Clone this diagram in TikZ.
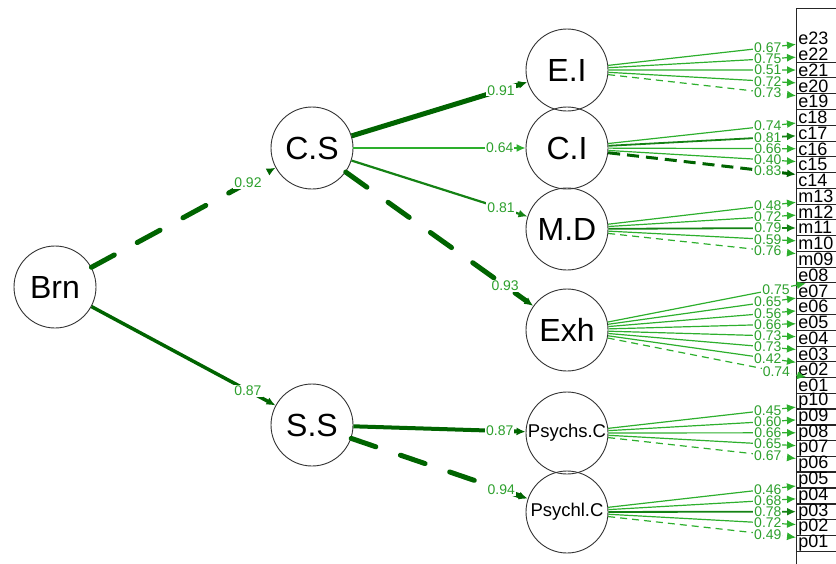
\documentclass[tikz,border=0pt]{standalone}
\usepackage{fontspec}
\setmainfont{Liberation Sans}
\usetikzlibrary{arrows.meta}
\definecolor{dkgreen}{RGB}{0,100,0}
\definecolor{mdgreen}{RGB}{20,130,20}
\definecolor{ltgreen}{RGB}{45,175,45}
\definecolor{lblgreen}{RGB}{45,160,45}
\tikzset{
  latent/.style={circle, draw=black!80, line width=0.9pt, minimum size=82pt, inner sep=0pt,
    font=\fontsize{32}{34}\selectfont},
  latsmall/.style={latent, font=\fontsize{18.5}{20}\selectfont},
  mbox/.style={draw=black!85, line width=0.9pt, anchor=west, text width=100pt, align=left,
    inner xsep=2pt, inner ysep=0pt, minimum height=15.77pt, font=\fontsize{18}{18}\selectfont},
  lbl/.style={fill=white, inner sep=1pt, text=lblgreen, font=\fontsize{14}{14}\selectfont, pos=0.85},
  tip/.style={-{Latex[length=9pt,width=8pt]}},
  reg/.style={tip, dkgreen, line width=5pt},
  regdash/.style={reg, line cap=round, dash pattern=on 26pt off 26pt},
  load/.style={tip, ltgreen, line width=1.2pt},
  loadstrong/.style={tip, mdgreen, line width=1.8pt},
  fixload/.style={load, dash pattern=on 7pt off 5pt},
  fixstrong/.style={tip, dkgreen, line width=3pt, dash pattern=on 12pt off 7pt}
}
\begin{document}
\begin{tikzpicture}[x=1pt, y=-1pt]
\useasboundingbox (0,0) rectangle (836,563);
\clip (0,0) rectangle (836,563);

\node[latent] (Brn) at (55,287) {Brn};
\node[latent] (CS) at (312,148) {C.S};
\node[latent] (SS) at (312,425) {S.S};
\node[latent] (EI) at (567,70) {E.I};
\node[latent] (CI) at (567,148) {C.I};
\node[latent] (MD) at (567,229) {M.D};
\node[latent] (Exh) at (567,330) {Exh};
\node[latsmall] (PsC) at (567,433) {Psychs.C};
\node[latsmall] (PlC) at (567,512) {Psychl.C};

\draw[black!85, line width=0.9pt] (796,8) rectangle (880,600);
\node[mbox, draw=none] (e23) at (796,38.5) {e23};
\node[mbox, draw=none] (e22) at (796,54.3) {e22};
\foreach \nm [count=\k from 2] in {e21,e20,e19,c18,c17,c16,c15,c14,m13,m12,m11,m10,m09,
    e08,e07,e06,e05,e04,e03,e02,e01,p10,p09,p08,p07,p06,p05,p04,p03,p02,p01}
  \node[mbox] (\nm) at (796,38.5+15.77*\k) {\nm};

\draw[regdash] (Brn) -- node[lbl] {0.92} (CS);
\draw[reg, line width=3.5pt] (Brn) -- node[lbl] {0.87} (SS);
\draw[reg] (CS) -- node[lbl] {0.91} (EI);
\draw[load, line width=1.5pt] (CS) -- node[lbl] {0.64} (CI);
\draw[reg, mdgreen, line width=2.2pt] (CS) -- node[lbl] {0.81} (MD);
\draw[regdash] (CS) -- node[lbl] {0.93} (Exh);
\draw[reg, line width=4pt] (SS) -- node[lbl] {0.87} (PsC);
\draw[regdash] (SS) -- node[lbl] {0.94} (PlC);

\foreach \ind/\val/\sty in {e23/0.67/load, e22/0.75/load, e21/0.51/load, e20/0.72/load, e19/0.73/fixload}
  \draw[\sty] (EI) -- node[lbl] {\val} (\ind);
\foreach \ind/\val/\sty in {c18/0.74/load, c17/0.81/loadstrong, c16/0.66/load, c15/0.40/load, c14/0.83/fixstrong}
  \draw[\sty] (CI) -- node[lbl] {\val} (\ind);
\foreach \ind/\val/\sty in {m13/0.48/load, m12/0.72/load, m11/0.79/loadstrong, m10/0.59/load, m09/0.76/fixload}
  \draw[\sty] (MD) -- node[lbl] {\val} (\ind);
\foreach \ind/\val/\sty in {e08/0.75/load, e07/0.65/load, e06/0.56/load, e05/0.66/load,
    e04/0.73/load, e03/0.73/load, e02/0.42/load, e01/0.74/fixload}
  \draw[\sty] (Exh) -- node[lbl] {\val} (\ind);
\foreach \ind/\val/\sty in {p10/0.45/load, p09/0.60/load, p08/0.66/load, p07/0.65/load, p06/0.67/fixload}
  \draw[\sty] (PsC) -- node[lbl] {\val} (\ind);
\foreach \ind/\val/\sty in {p05/0.46/load, p04/0.68/load, p03/0.78/loadstrong, p02/0.72/load, p01/0.49/fixload}
  \draw[\sty] (PlC) -- node[lbl] {\val} (\ind);
\end{tikzpicture}
\end{document}
